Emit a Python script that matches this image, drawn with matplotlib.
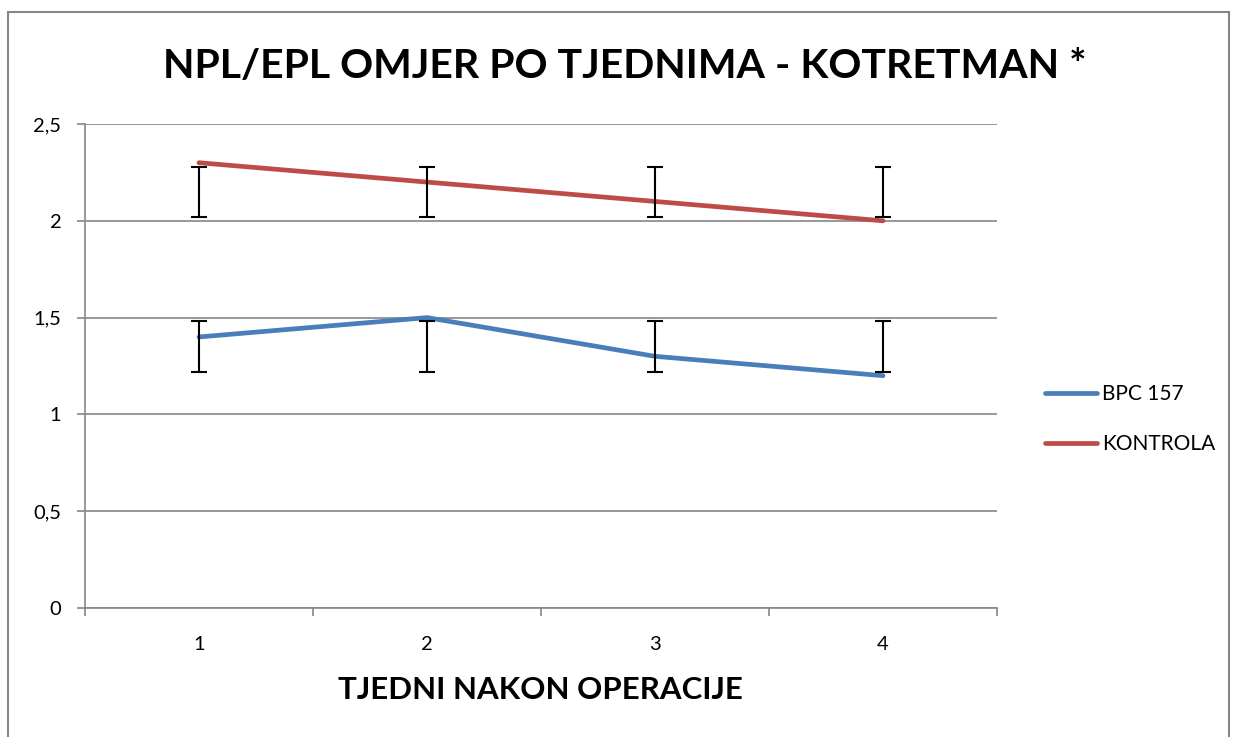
import matplotlib
matplotlib.use("Agg")
import matplotlib.pyplot as plt
from matplotlib.patches import Rectangle

weeks = [1, 2, 3, 4]
week_labels = ["1", "2", "3", "4"]
bpc157 = [1.4, 1.5, 1.3, 1.2]
kontrola = [2.3, 2.2, 2.1, 2.0]
# error bars (drawn as in the original, at fixed ranges)
bpc_err_low = [1.22, 1.22, 1.22, 1.22]
bpc_err_high = [1.48, 1.48, 1.48, 1.48]
kon_err_low = [2.02, 2.02, 2.02, 2.02]
kon_err_high = [2.28, 2.28, 2.28, 2.28]
y_ticks = [0, 0.5, 1, 1.5, 2, 2.5]
y_tick_labels = ["0", "0,5", "1", "1,5", "2", "2,5"]

plt.rcParams['font.family'] = ['Lato', 'DejaVu Sans']

W, H = 1233, 737
fig = plt.figure(figsize=(W / 100, H / 100), dpi=100)
ax = fig.add_axes([85 / W, 1 - 608 / H, (997 - 85) / W, (608 - 124) / H])

blue = "#4A7EBB"
red = "#BE4B48"
grid = "#868686"

for val in y_ticks:
    ax.axhline(val, color=grid, lw=1.2, zorder=1)

ax.plot(weeks, bpc157, color=blue, lw=3.4, solid_capstyle='round', zorder=3, label="BPC 157")
ax.plot(weeks, kontrola, color=red, lw=3.4, solid_capstyle='round', zorder=3, label="KONTROLA")

for lo, hi in ((bpc_err_low, bpc_err_high), (kon_err_low, kon_err_high)):
    mid = [(a + b) / 2 for a, b in zip(lo, hi)]
    half = [(b - a) / 2 for a, b in zip(lo, hi)]
    ax.errorbar(weeks, mid, yerr=half, fmt='none', ecolor='black', elinewidth=1.5,
                capsize=6, capthick=1.5, zorder=4)

ax.set_xlim(0.5, 4.5)
ax.set_ylim(0, 2.5)
ax.set_yticks(y_ticks)
ax.set_yticklabels(y_tick_labels)
ax.set_xticks(weeks)
ax.set_xticklabels(week_labels)
ax.set_xticks([0.5, 1.5, 2.5, 3.5, 4.5], minor=True)
ax.tick_params(axis='x', which='major', length=0, pad=20, labelsize=14.5)
ax.tick_params(axis='x', which='minor', length=6, color=grid, width=1.2)
ax.tick_params(axis='y', length=6, color=grid, width=1.2, pad=11, labelsize=14.5)

for s in ['top', 'right']:
    ax.spines[s].set_visible(False)
ax.spines['left'].set_color(grid)
ax.spines['bottom'].set_color(grid)
ax.spines['left'].set_linewidth(1.2)
ax.spines['bottom'].set_linewidth(1.2)

fig.text(625 / W, 1 - 66 / H, "NPL/EPL OMJER PO TJEDNIMA - KOTRETMAN *",
         ha='center', va='center', fontsize=29.5, fontweight='bold')
fig.text(540 / W, 1 - 690 / H, "TJEDNI NAKON OPERACIJE",
         ha='center', va='center', fontsize=22.5, fontweight='bold')

leg = fig.legend(loc='center left', bbox_to_anchor=(1026 / W, 1 - 419 / H), frameon=False,
                 fontsize=15, handlelength=2.5, handletextpad=0.25, labelspacing=1.45)

fig.patches.append(Rectangle((8 / W, -0.1), (1229 - 8) / W, 1.1 - 12 / H,
                             transform=fig.transFigure, fill=False, edgecolor=grid, lw=1.5))

fig.savefig("out.png", dpi=100)
